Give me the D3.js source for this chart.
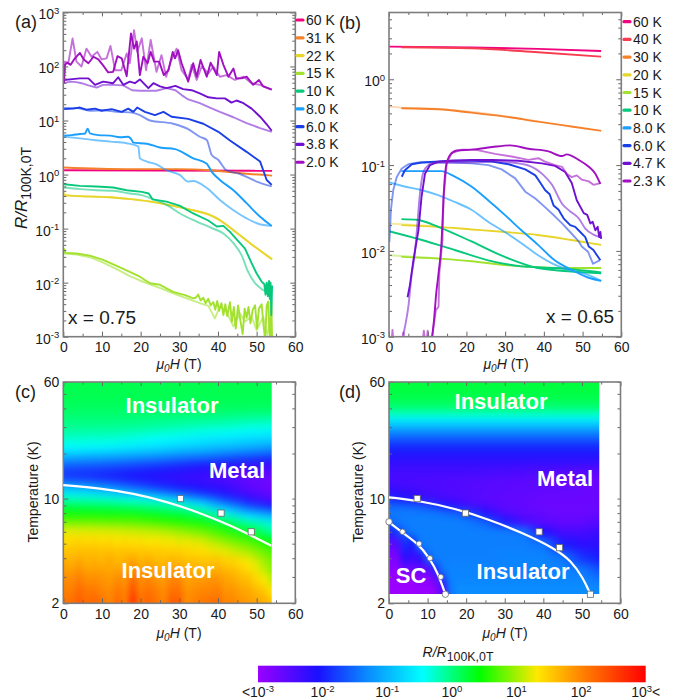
<!DOCTYPE html>
<html><head><meta charset="utf-8"><script src="https://cdn.jsdelivr.net/npm/d3@7"></script>
<style>html,body{margin:0;padding:0;background:#fff}svg{display:block}text{font-family:"Liberation Sans",Arial,sans-serif;fill:#1a1a1a}</style>
</head><body><div id="chart"></div>
<script>
// ---- Panel (a): x = 0.75, [field in T, log10(R/R100K,0T)] ----
const a60 = [[0.2,.08],[54,.07]];
const a31 = [[0.2,.13],[16.4,.10],[29.3,.10],[38.1,.08],[46.6,.02],[54,-.02]];
const a22L = [[0.1,-.32],[0.5,-.39],[4.3,-.40],[12.1,-.42],[18.1,-.46],[23.3,-.51],[28.4,-.58],[33.6,-.66],[38.1,-.76],[42,-.92],[44,-1.03],[48.3,-1.27],[54,-1.56]];
const a22D = [[0.2,-.38],[4.3,-.40],[12.1,-.42],[18.1,-.46],[23.3,-.51],[28.4,-.58],[33.6,-.66],[38.1,-.75],[40.5,-.84],[42.2,-.93],[44,-1.03],[48.3,-1.27],[54,-1.57]];
const a15L = [[.2,-1.46],[3.4,-1.48],[6.9,-1.53],[10.3,-1.63],[13.8,-1.75],[17.2,-1.88],[19.8,-1.96],[22.4,-2.03],[25.4,-2.11],[28.9,-2.21],[31.9,-2.29],[35.3,-2.38],[37.5,-2.43],[39.2,-2.66],[40.5,-2.44],[42.2,-2.54],[44,-2.81],[45.7,-2.57],[47,-2.72],[48.7,-2.63],[50,-2.88],[51.7,-2.63],[52.8,-2.97],[53.6,-2.63]];
const a15D = [[.1,-1.45],[.3,-1.38],[.5,-1.45],[3.4,-1.46],[6.9,-1.5],[10.3,-1.58],[13.8,-1.69],[17.2,-1.8],[19.8,-1.89],[22.4,-2.01],[25,-2.04],[28.4,-2.17],[31.5,-2.23],[33.6,-2.29],[34.2,-2.28],[34.9,-2.22],[35.5,-2.33],[36.2,-2.28],[36.8,-2.38],[37.5,-2.3],[38.1,-2.42],[38.8,-2.36],[39.3,-2.5],[39.8,-2.34],[40.3,-2.52],[40.9,-2.38],[41.4,-2.6],[41.9,-2.4],[42.4,-2.62],[43.1,-2.36],[43.6,-2.72],[44.1,-2.45],[44.6,-2.85],[45.2,-2.42],[45.8,-2.7],[46.4,-2.95],[46.9,-2.48],[47.4,-2.65],[47.9,-2.45],[48.4,-2.75],[49,-2.5],[49.6,-2.42],[50.1,-2.85],[50.6,-2.48],[51.3,-2.4],[51.8,-2.8],[52.2,-3.05],[52.6,-2.42],[53,-2.35],[53.3,-2.9],[53.6,-3.05],[53.8,-2.35],[54,-3.05]];
const a10L = [[.2,-.24],[4.3,-.27],[8.6,-.29],[12.9,-.3],[17.2,-.35],[20.3,-.38],[23.3,-.46],[26.7,-.56],[30.2,-.72],[34.5,-.87],[38.4,-.99],[41.4,-1.09],[44,-1.27],[46.1,-1.49],[47.8,-1.8],[49.6,-2.01],[51.3,-2.12],[53,-2.2],[53.9,-2.32]];
const a10D = [[.2,-.18],[4.3,-.21],[8.6,-.22],[12.9,-.24],[16.4,-.29],[20.3,-.32],[22.1,-.35],[23.1,-.46],[26.7,-.5],[30.2,-.58],[33.6,-.72],[37.5,-.85],[39.7,-.96],[41.4,-.95],[43.1,-1.06],[44.6,-1.18],[47,-1.37],[48.7,-1.64],[50,-1.83],[51.3,-1.98],[52,-2.03],[52.3,-2.22],[52.6,-2.0],[52.9,-2.25],[53.2,-1.97],[53.4,-2.3],[53.6,-2.0],[53.8,-2.6],[54,-2.05]];
const a8L = [[.2,.70],[4.3,.67],[7.8,.64],[12.1,.61],[16.4,.58],[19.4,.52],[19.8,.30],[21.6,.24],[24.1,.19],[26.7,.08],[30.2,-.01],[32.3,-.13],[33.6,-.12],[37.1,-.25],[40.5,-.47],[44,-.66],[47.4,-.81],[50.4,-.91],[53.9,-.95]];
const a8D = [[.2,.72],[2.2,.73],[4.3,.75],[5.6,.76],[6.3,.85],[6.9,.76],[9.05,.73],[12.1,.72],[14.7,.69],[16.8,.70],[17.7,.64],[18.1,.59],[21.6,.57],[25,.5],[28.9,.47],[33.6,.3],[37.1,.2],[38.4,.05],[40.5,-.1],[44,-.29],[47.4,-.53],[50.9,-.78],[53.9,-.95]];
const a6L = [[.2,1.23],[3.4,1.23],[6.9,1.18],[10.3,1.19],[13.8,1.16],[17.2,1.15],[19.8,1.1],[22.4,1.0],[28.4,.94],[32.3,.84],[35.3,.70],[37.1,.64],[38.4,.36],[40.1,.27],[42.2,.08],[45.7,.01],[50,-.13],[53.9,-.22]];
const a6D = [[.2,1.21],[2.6,1.22],[4.3,1.24],[6,1.2],[8.2,1.22],[9.9,1.18],[12.5,1.21],[15.1,1.16],[16.8,1.22],[18.1,1.16],[19.1,1.24],[21.1,1.16],[23.7,1.1],[25.9,1.16],[28,1.07],[32.3,1.03],[36.2,.94],[40.1,.79],[43.1,.63],[47.4,.42],[50.9,.24],[51.7,.08],[52.6,-.1],[53.9,-.19]];
const a38L = [[.2,1.69],[1.7,1.72],[3.4,1.71],[4.7,1.69],[6.5,1.65],[8.6,1.61],[10.3,1.66],[12.9,1.66],[15.5,1.65],[17.8,1.56],[19.8,1.55],[22.4,1.55],[24.1,1.55],[26.7,1.6],[29,1.56],[30.6,1.47],[32.3,1.39],[35.3,1.32],[37.9,1.24],[40.5,1.16],[44,1.06],[47.4,.95],[50.9,.86],[53.9,.79]];
const a38D = [[.2,1.75],[1.7,1.76],[4.3,1.78],[6.5,1.78],[8.2,1.66],[10.3,1.72],[12.9,1.69],[14.2,1.8],[15.5,1.66],[17.2,1.72],[18.5,1.69],[19.8,1.76],[22,1.6],[23.3,1.69],[25,1.63],[26.7,1.6],[29,1.64],[31,1.58],[33.2,1.56],[35.3,1.5],[37.5,1.43],[39.7,1.41],[41.8,1.41],[43.5,1.33],[44.8,1.37],[46.6,1.32],[48.7,1.22],[50.9,1.07],[52.6,.93],[53.9,.81]];
const a2L = [[.2,1.81],[.4,2.09],[1.3,2.06],[2.4,2.52],[3.4,2.09],[4.7,2.0],[6,2.33],[7.3,2.18],[8.8,2.27],[9.9,2.13],[11.2,2.15],[12.2,2.38],[13.4,1.93],[15,1.93],[16.4,2.24],[17.2,2.06],[18.3,2.67],[19.1,2.27],[20.3,2.52],[21.4,1.93],[22.6,2.49],[24.1,1.9],[25.4,2.21],[26.6,1.81],[27.8,2.09],[29.3,2.33],[30.6,1.93],[32.3,1.76],[33.2,2.03],[34.5,1.75],[35.8,2.0],[37.5,1.87],[38.8,2.0],[40.5,1.81],[42.2,1.84],[44.4,1.75],[46.6,1.81],[48.7,1.69],[50.9,1.66],[53.9,1.57]];
const a2D = [[.17,1.69],[.43,2.03],[1.03,2.07],[1.9,2.03],[3,2.15],[4.3,2.25],[5.3,2.13],[6.5,2.06],[7.8,2.18],[9.05,2.13],[10.5,2.0],[11.6,1.89],[12.9,1.90],[14,2.19],[15.1,2.15],[16.4,1.82],[17.5,2.61],[18.3,2.33],[19,2.46],[19.8,1.84],[20.7,2.18],[21.8,2.06],[22.6,2.27],[23.5,2.09],[24.8,2.09],[26,1.84],[27.2,1.93],[28.3,2.27],[28.9,2.15],[29.7,2.30],[30.6,2.06],[32.3,1.72],[33.6,2.06],[34.5,1.81],[35.5,2.12],[37.1,1.81],[38.1,2.07],[39.7,1.84],[40.3,2.27],[41.4,2.03],[42.7,1.81],[44,1.96],[44.7,1.78],[46.1,1.78],[47.4,1.81],[49.1,1.66],[50.6,1.75],[51.7,1.63],[53.9,1.57]];

// ---- Panel (b): x = 0.65 ----
const b60 = [[0,.38],[21.3,.37],[38.5,.354],[54.8,.33]];
const b40 = [[3.2,.373],[21.3,.361],[38.5,.315],[54.8,.264]];
const b30L = [[0,-.319],[3.2,-.33],[12.7,-.345],[21.3,-.38],[29.9,-.43],[38.5,-.49]];
const b30D = [[3.2,-.338],[12.7,-.35],[21.3,-.389],[29.9,-.435],[38.5,-.494],[47.1,-.55],[54.8,-.6]];
const b20L = [[0,-1.68],[3.2,-1.69],[12.7,-1.715]];
const b20D = [[3.2,-1.70],[12.7,-1.72],[21.3,-1.75],[29.9,-1.78],[38.5,-1.815],[47.1,-1.873],[54.8,-1.93]];
const b15L = [[0,-2.05],[3.2,-2.06],[12.7,-2.085]];
const b15D = [[3.2,-2.07],[12.7,-2.09],[21.3,-2.12],[29.9,-2.165],[38.5,-2.19],[47.1,-2.2],[54.8,-2.2]];
const b10L = [[0,-1.77],[8.3,-1.87],[17,-1.99],[25.6,-2.11],[34.2,-2.18],[42.8,-2.2],[54.8,-2.25]];
const b10D = [[3.2,-1.63],[7.5,-1.64],[12.7,-1.72],[21.3,-1.89],[29.9,-2.07],[38.5,-2.2],[47.1,-2.24],[54.8,-2.26]];
const b8L = [[0,-1.2],[4,-1.25],[8.3,-1.29],[12.7,-1.35],[17,-1.43],[21.3,-1.52],[25.6,-1.66],[29.9,-1.78],[34.2,-1.91],[38.5,-2.05],[42.8,-2.16],[47.1,-2.23],[51.4,-2.28],[54.8,-2.35]];
const b8D = [[3.2,-1.07],[8.3,-1.07],[13.5,-1.07],[17,-1.135],[21.3,-1.25],[25.6,-1.41],[29.9,-1.58],[34.2,-1.76],[38.5,-1.93],[42.8,-2.11],[47.1,-2.22],[51.4,-2.31],[54.8,-2.35]];
const b6L = [[.1,-1.9],[.26,-1.76],[.5,-1.52],[1.1,-1.29],[2,-1.14],[3.3,-1.04],[5,-.99],[7.6,-.97],[11.9,-.97],[16.2,-.97],[21.4,-.98],[25.7,-1],[29.1,-1.05],[32.6,-1.155],[35.2,-1.31],[37.8,-1.39],[40.3,-1.49],[42.9,-1.6],[44.7,-1.68],[47.2,-1.8],[49,-1.89],[49.8,-1.95],[51.4,-2.01],[52.7,-2.15],[54.4,-2.11]];
const b6D = [[3.3,-1.136],[4.1,-1.06],[5.9,-.99],[8.4,-.97],[11.9,-.96],[16.2,-.95],[21.4,-.95],[26.6,-.96],[30.9,-.99],[35.2,-1.05],[37.8,-1.12],[39,-1.2],[40.3,-1.29],[41.5,-1.34],[42.5,-1.47],[43.8,-1.52],[45.1,-1.62],[46.8,-1.7],[48.1,-1.72],[49.4,-1.78],[50.7,-1.84],[51.6,-1.95],[52.8,-1.99],[54.6,-2.11]];
const b47L = [[3.7,-2.98],[4.1,-2.89],[5,-2.65],[5.9,-2.26],[6.5,-2.09],[7.2,-1.76],[8,-1.33],[8.9,-1.08],[10.2,-1],[11.9,-.97],[16.2,-.97],[21.4,-.97],[26.6,-.96],[31.7,-.97],[36.9,-1.02],[39.5,-1.1],[42.1,-1.23],[44.7,-1.45],[46.8,-1.54],[49,-1.62],[50.7,-1.74],[52.8,-1.81],[54.6,-1.84]];
const b47D = [[4.8,-2.54],[5.4,-2.4],[6.3,-2.11],[7.6,-1.76],[8.4,-1.37],[9.3,-1.1],[10.6,-1.0],[12.8,-.96],[16.2,-.95],[21.4,-.94],[26.6,-.94],[33.4,-.95],[39.5,-.98],[42.9,-1.01],[45.5,-1.08],[47.2,-1.21],[48.5,-1.41],[50.3,-1.56],[51.2,-1.58],[52,-1.68],[52.6,-1.66],[53.3,-1.76],[53.9,-1.72],[54.3,-1.84],[54.6,-1.78],[54.8,-1.86]];
const b23L = [[.7,-3.05],[.9,-2.92],[1.1,-3.05],[3.4,-3.05],[3.7,-2.95],[4,-3.05],[8.7,-3.05],[9,-2.93],[9.3,-3.05],[9.7,-3.05],[10,-2.93],[10.3,-3.05],[11,-3.05],[12.1,-2.69],[12.8,-2.65],[13,-2.26],[13.8,-1.875],[14.1,-1.37],[14.9,-.98],[16.2,-.86],[18.8,-.82],[22.2,-.82],[27.4,-.87],[31.7,-.9],[36,-.94],[38.6,-.92],[40.3,-.96],[42.9,-1],[44.7,-1.02],[45.9,-1.1],[47.2,-1.14],[48.5,-1.12],[49.8,-1.17],[51.6,-1.19],[52.8,-1.23],[54.6,-1.21]];
const b23D = [[11,-3.05],[11.7,-2.77],[12.1,-2.54],[12.8,-2.26],[13.6,-1.875],[14.1,-1.37],[14.7,-1.02],[15.8,-.88],[17.5,-.83],[21.4,-.82],[26.6,-.79],[31.3,-.77],[36,-.81],[41.2,-.84],[44.7,-.895],[45.9,-.875],[49,-.94],[51.6,-1.02],[53.3,-1.1],[54.6,-1.22]];

// legends: [label, colour]
const legendA = [["60 K","#f0047f"],["31 K","#f5822a"],["22 K","#e8d52b"],["15 K","#a2e22e"],["10 K","#08c87c"],["8.0 K","#1a9fff"],["6.0 K","#1a3fe8"],["3.8 K","#7010d0"],["2.0 K","#a010c0"]];
const legendB = [["60 K","#f0047f"],["40 K","#f83c50"],["30 K","#f5822a"],["20 K","#e8d52b"],["15 K","#a2e22e"],["10 K","#08c87c"],["8.0 K","#1a9fff"],["6.0 K","#1a3fe8"],["4.7 K","#7010d0"],["2.3 K","#a010c0"]];
const seriesA = [[a60,"#f0047f",1],[a31,"#f5822a",1],[a22L,"#e8d52b",.6],[a22D,"#e8d52b",1],[a15L,"#a2e22e",.6],[a15D,"#a2e22e",1],[a10L,"#08c87c",.55],[a10D,"#08c87c",1],[a8L,"#1a9fff",.6],[a8D,"#1a9fff",1],[a6L,"#1a3fe8",.55],[a6D,"#1a3fe8",1],[a38L,"#7010d0",.55],[a38D,"#7010d0",1],[a2L,"#a010c0",.6],[a2D,"#a010c0",1]];
const seriesB = [[b60,"#f0047f",1],[b40,"#f83c50",1],[b30L,"#f5822a",.35],[b30D,"#f5822a",1],[b20L,"#e8d52b",.45],[b20D,"#e8d52b",1],[b15L,"#a2e22e",.45],[b15D,"#a2e22e",1],[b10L,"#08c87c",1],[b10D,"#08c87c",1],[b8L,"#1a9fff",.65],[b8D,"#1a9fff",1],[b6L,"#1a3fe8",.55],[b6D,"#1a3fe8",1],[b47L,"#7010d0",.55],[b47D,"#7010d0",1],[b23L,"#a010c0",.6],[b23D,"#a010c0",1]];

// ---- Colour bar: log10 value -> colour ----
const cbValues = [-3,-2.07,-1.3,-.45,.43,1.32,2.03,3];
const cbColors = ["#9a00ff","#1a10ff","#0a8cff","#00ffff","#00ff00","#ffe800","#ff8000","#ff0000"];
const cbTicks = [-3,-2,-1,0,1,2,3];

// ---- Map (c): rows of log10(R/R100K,0T); values are evenly spaced from 0 to 54 T ----
const heatTempC = [60,48,40,35,31,28,25,22,20,18,16.5,15,13.8,12.8,12,11,10,9,8.2,7.4,6.7,6,5.2,4.5,3.8,3.4,2.9,2.4,2];
const heatRowsC = [[.16],[.15],[.1],
[.03,.03,.03,.02,0,-.02,-.03,-.05,-.08,-.1],
[-.05,-.05,-.05,-.06,-.1,-.14,-.18,-.22,-.28,-.32],
[-.15,-.15,-.16,-.2,-.25,-.32,-.38,-.42,-.48,-.52],
[-.28,-.3,-.32,-.38,-.45,-.52,-.6,-.65,-.72,-.78],
[-.45,-.48,-.52,-.6,-.68,-.78,-.86,-.95,-1.05,-1.15],
[-.8,-.85,-.9,-.98,-1.05,-1.15,-1.25,-1.35,-1.45,-1.55],
[-1.25,-1.3,-1.35,-1.42,-1.5,-1.6,-1.68,-1.8,-1.9,-2.0],
[-1.6,-1.65,-1.7,-1.78,-1.85,-1.95,-2.05,-2.15,-2.25,-2.35],
[-1.8,-1.85,-1.9,-1.98,-2.05,-2.15,-2.25,-2.35,-2.45,-2.55],
[-1.85,-1.9,-2.0,-2.1,-2.2,-2.3,-2.35,-2.45,-2.6,-2.65],
[-1.4,-1.5,-1.65,-1.85,-2.0,-2.15,-2.25,-2.4,-2.6,-2.7],
[-1.0,-1.1,-1.3,-1.55,-1.8,-2.0,-2.15,-2.3,-2.55,-2.7],
[-.6,-.7,-.85,-1.1,-1.4,-1.7,-1.95,-2.15,-2.45,-2.65],
[-.22,-.25,-.3,-.4,-.55,-.85,-1.3,-1.8,-2.2,-2.5],
[.1,.08,.05,-.02,-.1,-.25,-.6,-1.2,-1.75,-2.1],
[.38,.36,.34,.3,.2,.08,-.1,-.6,-1.1,-1.4],
[.65,.65,.62,.6,.5,.4,.25,-.1,-.5,-.8],
[.95,.95,.92,.88,.8,.68,.55,.3,0,-.3],
[1.25,1.24,1.22,1.17,1.12,1.0,.85,.6,.3,-.1],
[1.4,1.42,1.46,1.4,1.44,1.38,1.42,1.36,1.4,1.36,1.38,1.3,1.34,1.28,1.3,1.22,1.26,1.2,1.18,1.08,1.02,.92,.85,.76,.7,.6,.48,.4],
[1.55,1.6,1.58,1.55,1.52,1.48,1.38,1.22,1.0,.7],
[1.75,1.68,1.78,1.68,1.72,1.66,1.76,1.64,1.7,1.82,1.66,1.74,1.64,1.62,1.68,1.66,1.58,1.6,1.56,1.56,1.58,1.48,1.46,1.38,1.28,1.15,1.0,.85],
[1.85,1.8,1.9,1.8,1.8,1.8,1.75,1.8,1.75,1.95,1.8,1.85,1.75,1.75,1.8,1.8,1.7,1.7,1.7,1.7,1.7,1.65,1.6,1.5,1.4,1.25,1.1,.9],
[1.95,1.95,2.05,1.95,1.95,1.9,1.85,1.95,1.9,2.2,1.95,2,1.9,1.85,2,2,1.8,1.85,1.85,1.9,1.9,1.8,1.75,1.65,1.6,1.45,1.3,1.1],
[2.05,2.05,2.2,2.1,2.1,2.0,1.95,2.1,2.0,2.4,2.05,2.15,2.05,1.95,2.15,2.15,1.9,1.95,2,2,2.05,1.9,1.9,1.8,1.75,1.65,1.55,1.35],
[2.15,2.15,2.3,2.2,2.25,2.15,2.0,2.2,2.05,2.6,2.15,2.25,2.15,2.0,2.3,2.3,1.95,2.05,2.1,2.15,2.2,2.0,2.0,1.9,1.85,1.8,1.75,1.6]];
// ---- Map (d): high rows evenly spaced; rows of 18 values sit on heatFieldD ----
const heatFieldD = [0,2,4,6,8,10,12,14,16,18,20,25,30,35,40,45,50,54.5];
const heatTempD = [60,50,44,40,37,35,33,31,29,27,25,23,21,18,15.5,13,11,10,9,8,7,6,5,4,3.4,3,2.6,2.3];
const heatRowsD = [[.22],[.2],[.12],[.02],[-.2],[-.42],[-.65],[-.9],[-1.15],[-1.4],[-1.6],[-1.85],[-2.0],[-2.2],
[-2.35,-2.35,-2.35,-2.4,-2.45,-2.5],[-2.4,-2.45,-2.5,-2.55,-2.6,-2.65],[-2.2,-2.4,-2.5,-2.55,-2.6,-2.65],
[-1.9,-2.0,-2.1,-2.15,-2.25,-2.3,-2.35,-2.4,-2.45,-2.45,-2.5,-2.55,-2.6,-2.6,-2.65,-2.65,-2.65,-2.65],
[-1.55,-1.55,-1.55,-1.6,-1.65,-1.75,-1.85,-2.0,-2.1,-2.2,-2.3,-2.45,-2.55,-2.6,-2.65,-2.65,-2.65,-2.65],
[-1.4,-1.4,-1.4,-1.4,-1.4,-1.4,-1.42,-1.45,-1.5,-1.58,-1.7,-2.1,-2.45,-2.55,-2.6,-2.65,-2.65,-2.6],
[-1.55,-1.45,-1.4,-1.38,-1.38,-1.38,-1.38,-1.38,-1.38,-1.38,-1.4,-1.55,-2.0,-2.4,-2.55,-2.6,-2.6,-2.5],
[-2.0,-1.8,-1.55,-1.4,-1.38,-1.38,-1.38,-1.38,-1.38,-1.38,-1.38,-1.38,-1.38,-1.45,-2.1,-2.4,-2.4,-2.3],
[-2.6,-2.5,-1.9,-2.0,-1.45,-1.38,-1.38,-1.38,-1.38,-1.38,-1.38,-1.38,-1.38,-1.38,-1.45,-2.0,-2.2,-2.2],
[-2.8,-2.75,-2.2,-2.3,-2.2,-1.6,-1.38,-1.38,-1.38,-1.38,-1.38,-1.38,-1.35,-1.35,-1.35,-1.45,-1.85,-2.0],
[-2.9,-2.9,-2.6,-2.65,-2.6,-2.5,-1.9,-1.4,-1.35,-1.35,-1.35,-1.35,-1.35,-1.35,-1.35,-1.35,-1.45,-1.7],
[-3,-3,-2.95,-2.9,-2.9,-2.85,-2.6,-1.7,-1.35,-1.35,-1.35,-1.35,-1.35,-1.35,-1.35,-1.35,-1.35,-1.5],
[-3,-3,-3,-3,-2.95,-2.95,-2.85,-2.3,-1.4,-1.3,-1.3,-1.3,-1.3,-1.3,-1.3,-1.3,-1.3,-1.35],
[-3,-3,-3,-3,-3,-3,-2.9,-2.5,-1.45,-1.3,-1.3,-1.3,-1.3,-1.3,-1.3,-1.3,-1.3,-1.3]];

// ---- Phase boundaries and markers: [field T, temperature K] ----
const lineC = [[0,12.3],[9.5,11.7],[18.1,10.84],[26.7,9.54],[35.3,8.05],[44,6.5],[49.1,5.57],[53.8,4.85]];
const squaresC = [[30.3,10],[40.8,8],[48.6,6]];
const lineD1 = [[0,10.2],[8.4,9.6],[17,8.6],[25.6,7.3],[34.3,5.95],[42.9,4.66],[47.2,3.85],[50.3,2.95],[52.2,2.3]];
const squaresD = [[7.3,10],[19.8,8],[38.9,6],[44.2,4.7],[52.2,2.3]];
const lineD2 = [[0,6.94],[3.2,6],[7.7,4.97],[10.5,4],[12.7,3.17],[14.6,2.3]];
const circlesD = [[0,7],[3.5,6],[7.8,5],[10.6,4],[13.4,3],[14.6,2.3]];

// ---- Tick labels ----
const fieldTicks = [0,10,20,30,40,50,60];
const fieldMinor = [5,15,25,35,45,55];
const expA = [3,2,1,0,-1,-2,-3];
const expB = [0,-1,-2,-3];
const tempLabels = [60,10,2];
const tempAll = [2,3,4,5,6,7,8,9,10,20,30,40,50,60];

const W=678,H=700;
const svg=d3.select("#chart").append("svg").attr("width",W).attr("height",H).attr("viewBox",[0,0,W,H]);
const defs=svg.append("defs");
const fs=14;
const colorOf=d3.scaleLinear().domain(cbValues).range(cbColors).clamp(true);
const frameColor="#7d7d7d",tickColor="#666";

function styleAxis(g){g.select(".domain").remove();g.selectAll(".tick line").attr("stroke",tickColor).attr("stroke-width",1);g.selectAll(".tick text").attr("font-size",fs).attr("fill","#1a1a1a");}
function frame(x,y,f){
  const [x0,x1]=x.range(),[y0,y1]=y.range();
  const g=svg.append("g");
  g.append("g").attr("transform",`translate(0,${y0})`).call(d3.axisBottom(x).tickValues(fieldTicks).tickSize(-5).tickPadding(5.5)).call(styleAxis);
  g.append("g").attr("transform",`translate(0,${y0})`).call(d3.axisBottom(x).tickValues(fieldMinor).tickSize(-3).tickFormat("")).call(styleAxis);
  g.append("g").attr("transform",`translate(0,${y1})`).call(d3.axisTop(x).tickValues(fieldTicks).tickSize(-4).tickFormat("")).call(styleAxis);
  g.append("g").attr("transform",`translate(0,${y1})`).call(d3.axisTop(x).tickValues(fieldMinor).tickSize(-2.5).tickFormat("")).call(styleAxis);
  f(g,x0,x1);
  g.append("rect").attr("x",x0).attr("y",y1).attr("width",x1-x0).attr("height",y0-y1).attr("fill","none").attr("stroke",frameColor).attr("stroke-width",1.6);
}
function logFrame(x,y,exps){
  const [lo,hi]=y.domain();
  const minor=[];
  for(let e=-3;e<=3;e++)for(let m=2;m<=9;m++){const v=m*10**e;if(v>lo&&v<hi)minor.push(v);}
  const majors=exps.map(e=>10**e);
  frame(x,y,(g,x0,x1)=>{
    g.append("g").attr("transform",`translate(${x0},0)`).call(d3.axisLeft(y).tickValues(minor).tickSize(-3).tickFormat("")).call(styleAxis);
    g.append("g").attr("transform",`translate(${x1},0)`).call(d3.axisRight(y).tickValues(minor).tickSize(-3).tickFormat("")).call(styleAxis);
    g.append("g").attr("transform",`translate(${x1},0)`).call(d3.axisRight(y).tickValues(majors).tickSize(-5).tickFormat("")).call(styleAxis);
    const l=g.append("g").attr("transform",`translate(${x0},0)`).call(d3.axisLeft(y).tickValues(majors).tickSize(-5).tickPadding(4).tickFormat(()=>"")).call(styleAxis);
    l.selectAll(".tick text").attr("dy","0.46em").each(function(d){
      const t=d3.select(this),e=Math.round(Math.log10(d));
      t.append("tspan").text("10");
      t.append("tspan").attr("font-size",9.5).attr("dy",-5.5).text(e);
    });
  });
}
function tempFrame(x,y){
  frame(x,y,(g,x0,x1)=>{
    g.append("g").attr("transform",`translate(${x0},0)`).call(d3.axisLeft(y).tickValues(tempAll.filter(t=>!tempLabels.includes(t))).tickSize(-3).tickFormat("")).call(styleAxis);
    g.append("g").attr("transform",`translate(${x1},0)`).call(d3.axisRight(y).tickValues(tempAll).tickSize(-3).tickFormat("")).call(styleAxis);
    g.append("g").attr("transform",`translate(${x0},0)`).call(d3.axisLeft(y).tickValues(tempLabels).tickSize(-5).tickPadding(4).tickFormat(d3.format("d"))).call(styleAxis);
  });
}
let clipN=0;
function clipRect(x,y,h1,t0,t1){
  const id="clip"+(clipN++);
  defs.append("clipPath").attr("id",id).append("rect").attr("x",x(0)).attr("y",y(t1)).attr("width",x(h1)-x(0)).attr("height",y(t0)-y(t1));
  return id;
}
function curves(x,y,series){
  const id=clipRect(x,y,x.domain()[1],y.domain()[0],y.domain()[1]);
  const smooth=d3.line().x(d=>x(d[0])).y(d=>y(10**d[1])).curve(d3.curveMonotoneX);
  const sharp=d3.line().x(d=>x(d[0])).y(d=>y(10**d[1]));
  svg.append("g").attr("clip-path",`url(#${id})`).selectAll("path").data(series).join("path")
    .attr("d",d=>(d[0].length>=24?sharp:smooth)(d[0])).attr("fill","none").attr("stroke",d=>d[1]).attr("stroke-opacity",d=>d[2]).attr("stroke-width",1.9).attr("stroke-linejoin","round");
}
function legend(items,xs,ys,step){
  items.forEach((it,i)=>{
    const y=ys+i*step;
    svg.append("line").attr("x1",xs).attr("x2",xs+6).attr("y1",y).attr("y2",y).attr("stroke",it[1]).attr("stroke-width",3.2).attr("stroke-linecap","round");
    svg.append("text").attr("x",xs+9).attr("y",y+5).attr("font-size",fs).text(it[0]);
  });
}
function xTitle(cx,y){
  const t=svg.append("text").attr("x",cx).attr("y",y).attr("text-anchor","middle").attr("font-size",fs);
  t.append("tspan").attr("font-style","italic").text("μ");
  t.append("tspan").attr("font-style","italic").attr("font-size",10).attr("dy",3).text("0");
  t.append("tspan").attr("font-style","italic").attr("dy",-3).text("H");
  t.append("tspan").text(" (T)");
}
function ratioTitle(sel,big,small,drop){
  sel.append("tspan").attr("font-style","italic").attr("font-size",big).text("R/R");
  sel.append("tspan").attr("font-size",small).attr("dy",drop).text("100K,0T");
}
function label(txt,x,y,opts={}){
  const t=svg.append("text").attr("x",x).attr("y",y).text(txt).attr("font-size",opts.size||18);
  if(opts.anchor)t.attr("text-anchor",opts.anchor);
  if(opts.bold)t.attr("font-weight","bold").style("fill","#fff");
  return t;
}
const blur=defs.append("filter").attr("id","heatBlur").attr("x","-10%").attr("y","-10%").attr("width","120%").attr("height","120%").attr("color-interpolation-filters","sRGB");
blur.append("feGaussianBlur").attr("stdDeviation","1.4 4");
function heatmap(x,y,temps,rows,hMax,tMin,fine){
  const id=clipRect(x,y,hMax,tMin,60);
  const g=svg.append("g").attr("clip-path",`url(#${id})`).append("g").attr("filter","url(#heatBlur)");
  rows.forEach((row,i)=>{
    const top=i===0?y(temps[0])-14:y(Math.sqrt(temps[i]*temps[i-1]));
    const bot=i===rows.length-1?y(temps[i])+14:y(Math.sqrt(temps[i]*temps[i+1]));
    const gid="heatRow"+(clipN++);
    const grad=defs.append("linearGradient").attr("id",gid).attr("gradientUnits","userSpaceOnUse").attr("x1",x(0)).attr("x2",x(hMax)).attr("y1",0).attr("y2",0);
    row.forEach((v,j)=>{
      const h=fine&&row.length===fine.length?fine[j]:(row.length>1?j/(row.length-1)*hMax:0);
      grad.append("stop").attr("offset",h/hMax).attr("stop-color",colorOf(v));
    });
    g.append("rect").attr("x",x(0)-12).attr("width",x(hMax)-x(0)+24).attr("y",top).attr("height",bot-top+0.6).attr("fill",`url(#${gid})`);
  });
}
function boundary(x,y,data){
  const line=d3.line().x(d=>x(d[0])).y(d=>y(d[1])).curve(d3.curveBasis);
  svg.append("path").attr("d",line(data)).attr("fill","none").attr("stroke","#fff").attr("stroke-width",2.2);
}
function squares(x,y,data){
  svg.append("g").selectAll("rect").data(data).join("rect").attr("x",d=>x(d[0])-3.1).attr("y",d=>y(d[1])-3.1).attr("width",6.2).attr("height",6.2).attr("fill","#fff").attr("stroke","#666").attr("stroke-width",.8);
}
function circles(x,y,data){
  svg.append("g").selectAll("circle").data(data).join("circle").attr("cx",d=>x(d[0])).attr("cy",d=>y(d[1])).attr("r",(d,i)=>i===0||i===data.length-1?3.2:2.7).attr("fill","#fff").attr("stroke","#666").attr("stroke-width",.8);
}

// panel (a)
const xA=d3.scaleLinear().domain([0,60]).range([63.3,295.3]);
const yA=d3.scaleLog().domain([1e-3,1e3]).range([336.7,12.4]);
curves(xA,yA,seriesA);
logFrame(xA,yA,expA);
legend(legendA,297,20,17.78);
label("x = 0.75",68,324,{size:19});
label("(a)",15,28);
xTitle(179,369);
const ya=svg.append("text").attr("transform","translate(27,188) rotate(-90)").attr("text-anchor","middle");
ratioTitle(ya,17,14,4);

// panel (b)
const xB=d3.scaleLinear().domain([0,60]).range([389,621.3]);
const yB=d3.scaleLog().domain([1e-3,6]).range([336.7,12.5]);
curves(xB,yB,seriesB);
logFrame(xB,yB,expB);
legend(legendB,624,21.7,17.7);
label("x = 0.65",546,323,{size:19});
label("(b)",339,29);
xTitle(506,369);

// panel (c)
const xC=d3.scaleLinear().domain([0,60]).range([63.3,295.3]);
const yC=d3.scaleLog().domain([2,60]).range([603.3,382]);
heatmap(xC,yC,heatTempC,heatRowsC,53.9,2);
tempFrame(xC,yC);
boundary(xC,yC,lineC);
squares(xC,yC,squaresC);
label("(c)",15,398);
label("Insulator",172,413,{size:22,anchor:"middle",bold:true});
label("Metal",237,478,{size:22,anchor:"middle",bold:true});
label("Insulator",168,578,{size:22,anchor:"middle",bold:true});
xTitle(179,638);
label("Temperature (K)",0,0,{size:fs,anchor:"middle"}).attr("transform","translate(38,492) rotate(-90)");

// panel (d)
const xD=d3.scaleLinear().domain([0,60]).range([389,620.5]);
const yD=d3.scaleLog().domain([2,60]).range([603.3,382]);
heatmap(xD,yD,heatTempD,heatRowsD,54.5,2.31,heatFieldD);
tempFrame(xD,yD);
boundary(xD,yD,lineD1);
boundary(xD,yD,lineD2);
squares(xD,yD,squaresD);
circles(xD,yD,circlesD);
label("(d)",339,398);
label("Insulator",501,409,{size:22,anchor:"middle",bold:true});
label("Metal",565,486,{size:22,anchor:"middle",bold:true});
label("Insulator",523,579,{size:22,anchor:"middle",bold:true});
label("SC",411,583,{size:22,anchor:"middle",bold:true});
xTitle(505,638);
label("Temperature (K)",0,0,{size:fs,anchor:"middle"}).attr("transform","translate(363,492) rotate(-90)");

// colour bar
const xBar=d3.scaleLinear().domain([-3,3]).range([258,645.7]);
const bg=defs.append("linearGradient").attr("id","cbGrad").attr("gradientUnits","userSpaceOnUse").attr("x1",xBar(-3)).attr("x2",xBar(3)).attr("y1",0).attr("y2",0);
cbValues.forEach((v,i)=>bg.append("stop").attr("offset",(v+3)/6).attr("stop-color",cbColors[i]));
svg.append("rect").attr("x",xBar(-3)).attr("y",665.7).attr("width",xBar(3)-xBar(-3)).attr("height",16.6).attr("fill","url(#cbGrad)");
cbTicks.forEach(e=>{
  const t=svg.append("text").attr("x",xBar(e)).attr("y",697).attr("text-anchor","middle").attr("font-size",fs);
  if(e===-3)t.append("tspan").text("<");
  t.append("tspan").text("10");
  t.append("tspan").attr("font-size",9.5).attr("dy",-5.5).text(e);
  if(e===3)t.append("tspan").attr("dy",5.5).text("<");
});
const cb=svg.append("text").attr("x",458).attr("y",657).attr("text-anchor","middle");
ratioTitle(cb,14,12.4,3.5);
</script></body></html>
